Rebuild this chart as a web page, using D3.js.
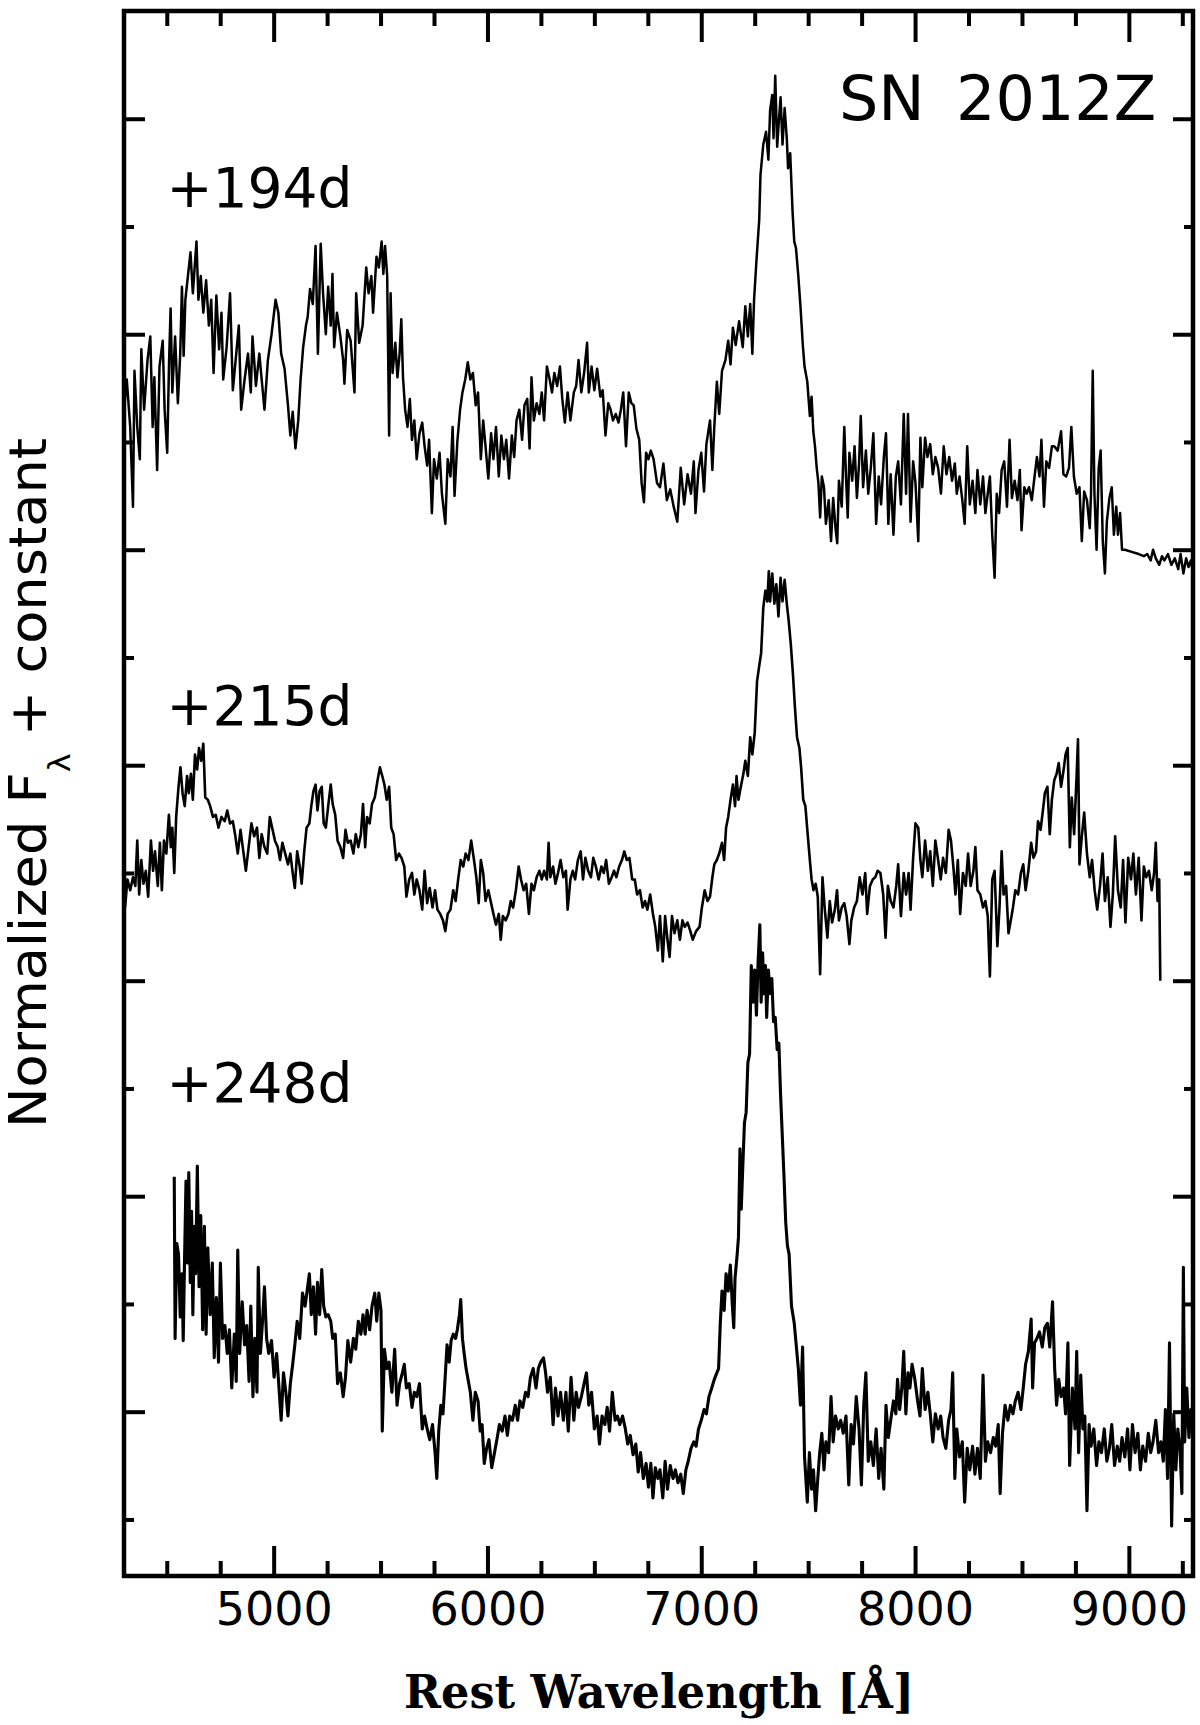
<!DOCTYPE html>
<html><head><meta charset="utf-8">
<script src="https://cdn.jsdelivr.net/npm/d3@7"></script>
<style>body{margin:0;background:#fff}</style>
</head><body>
<svg id="c" width="1200" height="1725"></svg>
<script>
// ---------- data ----------
const xTickLabels = [5000, 6000, 7000, 8000, 9000];
const xMinorTicks = [4500,4750,5250,5500,5750,6250,6500,6750,7250,7500,7750,8250,8500,8750,9250];
const yMajorTicks = [1,2,3,4,5,6,7];
const yMinorTicks = [0.5,1.5,2.5,3.5,4.5,5.5,6.5];
const epochLabels = ["+194d", "+215d", "+248d"];
const epochLabelY = [6.59, 4.185, 2.436];
const objectName = ["SN", "2012Z"];

// [rest wavelength (Å), normalized flux + constant]
const spec194 = [[4300,5.65],[4313,5.79],[4329,5.57],[4342,5.20],[4349,5.83],[4362,5.57],[4374,5.42],[4381,5.93],[4394,5.65],[4410,5.88],[4423,5.99],[4434,5.57],[4442,5.80],[4455,5.37],[4466,5.85],[4481,5.97],[4490,5.65],[4502,5.45],[4511,5.88],[4518,6.12],[4526,5.73],[4539,5.99],[4552,5.68],[4563,5.91],[4571,6.22],[4579,5.90],[4587,6.16],[4600,6.28],[4611,6.38],[4622,6.19],[4639,6.43],[4648,6.16],[4659,6.27],[4671,6.10],[4684,6.25],[4697,6.04],[4708,6.16],[4719,5.82],[4732,6.18],[4745,5.93],[4756,6.10],[4764,5.79],[4780,5.94],[4796,6.19],[4809,5.74],[4825,5.91],[4837,6.04],[4848,5.65],[4864,5.79],[4880,5.91],[4893,5.73],[4901,5.99],[4917,5.76],[4933,5.91],[4944,5.79],[4957,5.65],[4973,5.88],[4990,6.00],[5009,6.16],[5022,6.10],[5035,5.91],[5051,5.84],[5067,5.67],[5078,5.53],[5089,5.64],[5102,5.47],[5115,5.60],[5126,5.79],[5138,5.94],[5151,6.04],[5159,6.08],[5170,6.21],[5183,6.14],[5196,6.41],[5207,5.91],[5220,6.42],[5231,6.19],[5244,6.00],[5255,6.22],[5267,6.04],[5275,6.28],[5283,5.94],[5296,6.10],[5312,5.99],[5325,5.88],[5331,5.77],[5344,6.02],[5360,5.97],[5378,5.73],[5386,6.19],[5400,5.96],[5416,6.04],[5433,6.31],[5444,6.19],[5457,6.27],[5465,6.10],[5481,6.36],[5492,6.31],[5505,6.43],[5513,6.28],[5521,6.41],[5531,6.27],[5540,5.53],[5547,6.19],[5556,5.82],[5569,5.96],[5579,5.80],[5589,5.91],[5597,6.07],[5605,5.80],[5615,5.65],[5626,5.57],[5637,5.70],[5647,5.51],[5658,5.60],[5669,5.42],[5682,5.54],[5695,5.59],[5706,5.48],[5718,5.39],[5727,5.51],[5740,5.17],[5750,5.42],[5763,5.33],[5776,5.45],[5787,5.26],[5803,5.12],[5814,5.42],[5827,5.34],[5837,5.57],[5846,5.25],[5859,5.50],[5872,5.65],[5883,5.73],[5896,5.79],[5908,5.87],[5920,5.79],[5932,5.82],[5945,5.67],[5956,5.73],[5969,5.42],[5980,5.60],[5991,5.48],[6004,5.33],[6017,5.54],[6028,5.42],[6040,5.57],[6053,5.34],[6065,5.53],[6077,5.42],[6088,5.51],[6101,5.33],[6114,5.53],[6125,5.43],[6136,5.60],[6149,5.65],[6162,5.51],[6173,5.67],[6186,5.70],[6197,5.47],[6206,5.80],[6217,5.60],[6230,5.68],[6243,5.63],[6254,5.73],[6265,5.60],[6278,5.85],[6291,5.79],[6302,5.73],[6313,5.82],[6326,5.76],[6339,5.85],[6350,5.70],[6362,5.59],[6375,5.73],[6388,5.60],[6404,5.73],[6415,5.76],[6426,5.88],[6439,5.73],[6452,5.82],[6466,5.96],[6474,5.73],[6487,5.85],[6500,5.74],[6513,5.84],[6528,5.71],[6539,5.74],[6552,5.53],[6565,5.68],[6576,5.65],[6587,5.60],[6600,5.63],[6613,5.59],[6624,5.65],[6635,5.73],[6648,5.48],[6661,5.73],[6673,5.68],[6684,5.67],[6697,5.56],[6710,5.51],[6721,5.31],[6732,5.22],[6742,5.45],[6753,5.42],[6764,5.46],[6777,5.42],[6793,5.31],
[6807,5.29],[6823,5.40],[6839,5.23],[6855,5.28],[6871,5.20],[6888,5.13],[6904,5.38],[6920,5.21],[6936,5.35],[6952,5.26],[6965,5.41],[6973,5.17],[6987,5.37],[7000,5.45],[7013,5.27],[7024,5.49],[7041,5.60],[7052,5.37],[7061,5.57],[7073,5.78],[7084,5.63],[7097,5.83],[7113,5.88],[7126,5.97],[7137,5.86],[7148,6.03],[7161,5.95],[7177,6.06],[7194,5.94],[7206,6.13],[7218,5.99],[7229,6.14],[7239,5.91],[7247,6.16],[7258,6.34],[7271,6.53],[7277,6.74],[7290,6.88],[7303,6.94],[7314,6.81],[7322,7.04],[7332,7.11],[7338,6.91],[7346,7.20],[7355,6.87],[7363,6.99],[7371,7.10],[7380,6.88],[7390,7.05],[7400,6.91],[7406,6.77],[7416,6.84],[7427,6.57],[7435,6.43],[7443,6.40],[7454,6.27],[7464,6.13],[7475,5.95],[7483,5.85],[7496,5.78],[7508,5.62],[7516,5.71],[7524,5.55],[7532,5.48],[7540,5.38],[7548,5.31],[7556,5.15],[7564,5.34],[7574,5.29],[7583,5.12],[7596,5.23],[7607,5.04],[7617,5.24],[7628,5.10],[7636,5.03],[7644,5.32],[7657,5.20],[7669,5.57],[7677,5.34],[7685,5.15],[7693,5.45],[7706,5.32],[7717,5.48],[7728,5.24],[7738,5.40],[7746,5.62],[7757,5.29],[7770,5.46],[7781,5.26],[7793,5.38],[7805,5.54],[7818,5.12],[7830,5.34],[7841,5.21],[7854,5.43],[7864,5.54],[7875,5.12],[7886,5.35],[7899,5.07],[7910,5.34],[7921,5.41],[7934,5.21],[7947,5.63],[7958,5.26],[7967,5.63],[7979,5.13],[7991,5.41],[8002,5.31],[8015,5.04],[8025,5.52],[8034,5.29],[8047,5.52],[8058,5.43],[8071,5.49],[8083,5.35],[8095,5.43],[8108,5.38],[8121,5.26],[8134,5.48],[8147,5.35],[8160,5.43],[8173,5.32],[8186,5.40],[8195,5.26],[8208,5.34],[8221,5.23],[8232,5.12],[8244,5.48],[8256,5.21],[8269,5.32],[8282,5.17],[8292,5.37],[8305,5.21],[8318,5.34],[8329,5.17],[8340,5.26],[8350,5.34],[8361,5.07],[8372,4.87],[8382,5.26],[8393,5.17],[8405,5.37],[8417,5.41],[8430,5.20],[8442,5.51],[8453,5.24],[8466,5.32],[8479,5.23],[8490,5.37],[8498,5.09],[8511,5.29],[8522,5.26],[8533,5.29],[8546,5.23],[8559,5.34],[8570,5.43],[8582,5.34],[8591,5.51],[8603,5.20],[8614,5.41],[8627,5.38],[8640,5.48],[8651,5.48],[8667,5.46],[8683,5.55],[8694,5.35],[8707,5.34],[8720,5.38],[8731,5.57],[8743,5.34],[8756,5.26],[8769,5.29],[8780,5.04],[8791,5.27],[8804,5.23],[8817,5.10],[8823,5.26],[8831,5.83],[8839,5.26],[8849,5.00],[8859,5.38],[8868,5.46],[8878,5.04],[8888,4.89],[8897,5.13],[8909,5.24],[8920,5.29],[8930,5.07],[8941,5.20],[8949,5.07],[8959,5.17],[8968,5.00],[8981,5.00],[9013,4.99],[9046,4.98],[9070,4.97],[9086,4.98],[9102,4.95],[9113,5.00],[9126,4.96],[9142,4.93],[9155,4.97],[9166,4.95],[9183,4.98],[9199,4.93],[9215,4.96],[9231,4.91],[9242,4.98],[9255,4.89],[9268,4.96],[9279,4.92],[9290,4.95],[9300,4.90]];

const spec215 = [[4305,3.34],[4316,3.47],[4329,3.42],[4342,3.48],[4353,3.44],[4362,3.65],[4371,3.40],[4381,3.56],[4391,3.45],[4402,3.51],[4413,3.39],[4426,3.65],[4436,3.51],[4445,3.60],[4458,3.44],[4468,3.64],[4477,3.42],[4487,3.65],[4498,3.59],[4510,3.77],[4519,3.62],[4526,3.71],[4535,3.50],[4544,3.76],[4555,3.90],[4564,3.99],[4574,3.87],[4584,3.81],[4595,3.95],[4603,3.87],[4613,3.96],[4622,3.84],[4632,4.05],[4642,3.98],[4651,4.08],[4661,4.02],[4671,4.10],[4680,3.85],[4692,3.84],[4703,3.81],[4716,3.76],[4729,3.77],[4742,3.71],[4756,3.76],[4771,3.74],[4783,3.79],[4796,3.73],[4809,3.74],[4821,3.67],[4832,3.59],[4845,3.70],[4858,3.60],[4870,3.51],[4883,3.62],[4896,3.73],[4909,3.67],[4922,3.71],[4933,3.57],[4944,3.68],[4957,3.62],[4970,3.59],[4982,3.76],[4993,3.71],[5006,3.65],[5019,3.62],[5030,3.56],[5041,3.64],[5054,3.59],[5067,3.54],[5078,3.59],[5089,3.50],[5099,3.43],[5110,3.60],[5122,3.53],[5131,3.45],[5143,3.60],[5154,3.71],[5167,3.73],[5176,3.81],[5186,3.88],[5196,3.91],[5205,3.79],[5215,3.88],[5225,3.90],[5234,3.73],[5244,3.71],[5255,3.81],[5267,3.91],[5276,3.82],[5288,3.77],[5299,3.65],[5312,3.62],[5325,3.57],[5336,3.70],[5347,3.64],[5360,3.65],[5373,3.59],[5384,3.68],[5396,3.62],[5408,3.68],[5418,3.82],[5428,3.62],[5437,3.76],[5449,3.73],[5460,3.82],[5473,3.85],[5486,3.93],[5497,3.99],[5508,3.95],[5518,3.91],[5529,3.84],[5540,3.90],[5550,3.71],[5561,3.68],[5573,3.56],[5586,3.59],[5598,3.57],[5611,3.53],[5621,3.39],[5634,3.47],[5647,3.50],[5658,3.40],[5669,3.47],[5682,3.42],[5695,3.33],[5706,3.51],[5718,3.36],[5730,3.43],[5743,3.34],[5755,3.42],[5766,3.33],[5779,3.31],[5792,3.28],[5803,3.23],[5814,3.31],[5827,3.33],[5840,3.42],[5851,3.37],[5863,3.47],[5875,3.56],[5887,3.53],[5898,3.59],[5911,3.56],[5924,3.65],[5937,3.56],[5948,3.48],[5959,3.36],[5969,3.56],[5980,3.50],[5991,3.37],[6004,3.42],[6017,3.36],[6028,3.31],[6040,3.26],[6053,3.31],[6062,3.19],[6072,3.30],[6085,3.28],[6098,3.31],[6109,3.37],[6120,3.34],[6133,3.42],[6146,3.53],[6157,3.47],[6169,3.42],[6181,3.45],[6194,3.31],[6206,3.45],[6217,3.42],[6230,3.48],[6243,3.51],[6254,3.47],[6265,3.51],[6278,3.47],[6286,3.64],[6294,3.48],[6307,3.53],[6318,3.45],[6330,3.50],[6342,3.56],[6355,3.48],[6367,3.51],[6375,3.33],[6388,3.47],[6399,3.51],[6410,3.47],[6423,3.56],[6436,3.60],[6447,3.47],[6458,3.57],[6471,3.51],[6484,3.48],[6495,3.57],[6507,3.53],[6520,3.47],[6533,3.53],[6544,3.50],[6555,3.56],[6568,3.45],[6581,3.48],[6592,3.51],[6603,3.48],[6616,3.53],[6629,3.56],[6640,3.60],[6652,3.56],[6664,3.57],[6677,3.47],[6689,3.47],[6700,3.40],[6713,3.42],[6726,3.34],[6737,3.37],[6748,3.33],[6761,3.40],[6774,3.31],[6785,3.25],[6797,3.14],
[6807,3.30],[6820,3.09],[6831,3.30],[6842,3.19],[6852,3.11],[6863,3.30],[6875,3.22],[6888,3.28],[6900,3.19],[6912,3.28],[6923,3.25],[6936,3.27],[6949,3.23],[6960,3.19],[6976,3.23],[6992,3.25],[7003,3.34],[7016,3.42],[7029,3.37],[7041,3.39],[7052,3.48],[7061,3.54],[7073,3.56],[7084,3.59],[7097,3.64],[7107,3.56],[7116,3.71],[7126,3.76],[7137,3.84],[7148,3.91],[7158,3.81],[7165,3.95],[7174,3.84],[7185,3.90],[7197,3.96],[7206,4.02],[7218,3.95],[7229,4.13],[7239,4.05],[7250,4.15],[7261,4.39],[7271,4.46],[7280,4.52],[7290,4.73],[7300,4.81],[7309,4.76],[7316,4.90],[7322,4.76],[7332,4.89],[7342,4.75],[7351,4.84],[7361,4.69],[7371,4.87],[7380,4.76],[7390,4.86],[7400,4.75],[7409,4.67],[7419,4.56],[7429,4.42],[7438,4.27],[7448,4.13],[7459,4.08],[7467,3.99],[7477,3.84],[7487,3.81],[7496,3.70],[7508,3.56],[7516,3.47],[7525,3.42],[7535,3.45],[7545,3.39],[7556,3.03],[7567,3.48],[7577,3.34],[7590,3.20],[7601,3.37],[7612,3.27],[7625,3.33],[7635,3.42],[7644,3.28],[7657,3.34],[7669,3.36],[7680,3.30],[7693,3.17],[7702,3.28],[7715,3.34],[7728,3.37],[7741,3.48],[7754,3.40],[7767,3.50],[7776,3.31],[7789,3.44],[7802,3.47],[7814,3.48],[7825,3.51],[7838,3.50],[7851,3.40],[7862,3.20],[7873,3.44],[7886,3.37],[7899,3.34],[7912,3.44],[7921,3.54],[7934,3.30],[7947,3.50],[7958,3.40],[7970,3.50],[7979,3.33],[7991,3.57],[8002,3.73],[8015,3.71],[8025,3.56],[8034,3.48],[8047,3.65],[8060,3.51],[8071,3.60],[8083,3.44],[8095,3.65],[8108,3.56],[8120,3.47],[8131,3.57],[8144,3.50],[8157,3.70],[8168,3.65],[8179,3.53],[8189,3.40],[8200,3.56],[8211,3.31],[8224,3.50],[8237,3.44],[8248,3.59],[8260,3.44],[8273,3.51],[8282,3.62],[8292,3.42],[8305,3.40],[8318,3.34],[8329,3.37],[8340,3.30],[8350,3.02],[8361,3.47],[8372,3.51],[8385,3.16],[8395,3.34],[8405,3.60],[8414,3.40],[8426,3.44],[8437,3.22],[8446,3.27],[8458,3.34],[8469,3.42],[8482,3.40],[8495,3.50],[8506,3.54],[8517,3.42],[8530,3.51],[8543,3.64],[8554,3.57],[8566,3.60],[8575,3.74],[8587,3.70],[8598,3.79],[8607,3.87],[8619,3.90],[8630,3.68],[8640,3.84],[8651,3.93],[8662,3.96],[8672,4.01],[8683,3.90],[8695,3.98],[8704,4.05],[8714,4.08],[8724,3.62],[8733,3.85],[8744,3.68],[8756,3.96],[8762,4.12],[8769,3.54],[8780,3.67],[8791,3.78],[8804,3.59],[8817,3.48],[8828,3.56],[8840,3.42],[8852,3.33],[8865,3.44],[8877,3.59],[8888,3.37],[8901,3.48],[8914,3.25],[8925,3.40],[8936,3.67],[8949,3.42],[8962,3.34],[8973,3.56],[8984,3.27],[8997,3.57],[9010,3.47],[9021,3.59],[9033,3.40],[9046,3.57],[9059,3.28],[9070,3.53],[9081,3.48],[9094,3.51],[9107,3.42],[9118,3.50],[9126,3.64],[9134,3.37],[9142,3.47],[9147,3.00]];

const spec248 = [[4535,2.09],[4539,1.34],[4547,1.78],[4555,1.73],[4563,1.44],[4571,1.64],[4577,1.33],[4584,1.75],[4590,2.07],[4597,1.69],[4603,2.11],[4610,1.60],[4616,1.93],[4622,1.45],[4629,1.86],[4635,1.64],[4643,2.14],[4651,1.58],[4659,1.91],[4668,1.38],[4676,1.86],[4684,1.36],[4692,1.76],[4703,1.45],[4713,1.69],[4722,1.25],[4732,1.53],[4742,1.23],[4751,1.69],[4761,1.34],[4772,1.40],[4783,1.27],[4793,1.38],[4804,1.11],[4816,1.36],[4825,1.14],[4832,1.75],[4841,1.27],[4853,1.51],[4864,1.31],[4874,1.40],[4885,1.14],[4893,1.49],[4903,1.07],[4912,1.34],[4922,1.09],[4928,1.67],[4938,1.27],[4948,1.42],[4957,1.58],[4967,1.34],[4977,1.27],[4990,1.33],[5002,1.16],[5014,1.27],[5025,1.11],[5035,0.96],[5046,1.18],[5057,1.09],[5067,0.98],[5078,1.13],[5089,1.22],[5099,1.31],[5110,1.42],[5122,1.34],[5135,1.55],[5147,1.49],[5159,1.58],[5167,1.64],[5176,1.45],[5186,1.58],[5196,1.36],[5205,1.60],[5215,1.45],[5225,1.66],[5234,1.49],[5244,1.44],[5255,1.45],[5267,1.42],[5276,1.34],[5288,1.36],[5299,1.13],[5312,1.18],[5325,1.07],[5336,1.16],[5347,1.33],[5360,1.23],[5373,1.34],[5384,1.29],[5396,1.42],[5408,1.36],[5418,1.45],[5428,1.36],[5437,1.47],[5449,1.38],[5460,1.49],[5473,1.55],[5482,1.42],[5492,1.55],[5502,1.47],[5508,0.91],[5518,1.29],[5529,1.20],[5540,1.23],[5553,1.09],[5566,1.29],[5577,1.03],[5589,1.13],[5602,1.18],[5611,1.22],[5621,1.11],[5634,1.13],[5647,1.02],[5658,1.09],[5669,1.07],[5682,1.13],[5695,0.92],[5706,0.98],[5718,0.92],[5730,0.87],[5743,0.94],[5755,0.81],[5763,0.69],[5772,0.91],[5782,1.03],[5792,0.99],[5801,1.14],[5811,1.31],[5821,1.23],[5830,1.33],[5840,1.36],[5851,1.34],[5859,1.38],[5869,1.45],[5875,1.52],[5883,1.34],[5891,1.27],[5900,1.20],[5911,1.14],[5920,1.09],[5932,0.96],[5943,1.09],[5956,1.05],[5966,0.91],[5975,0.94],[5985,0.76],[5996,0.83],[6007,0.87],[6020,0.74],[6033,0.81],[6044,0.87],[6056,0.94],[6069,0.91],[6082,0.98],[6093,0.89],[6104,0.98],[6117,0.96],[6130,1.03],[6141,0.96],[6152,1.05],[6165,1.02],[6178,1.09],[6190,1.07],[6201,1.16],[6214,1.20],[6227,1.11],[6238,1.20],[6249,1.23],[6262,1.25],[6272,1.18],[6281,1.09],[6294,1.16],[6307,0.94],[6318,1.11],[6330,0.98],[6342,1.09],[6355,0.96],[6367,1.09],[6378,0.91],[6391,1.16],[6404,0.96],[6415,1.09],[6426,1.02],[6439,1.07],[6452,1.13],[6463,1.18],[6474,1.03],[6487,1.09],[6500,0.92],[6513,0.98],[6524,0.85],[6536,0.98],[6549,0.94],[6560,1.02],[6571,0.91],[6584,1.09],[6597,0.96],[6608,0.98],[6619,0.94],[6632,0.98],[6645,0.92],[6656,0.85],[6668,0.89],[6681,0.80],[6694,0.85],[6705,0.72],[6716,0.81],[6729,0.69],[6742,0.76],[6753,0.65],[6764,0.76],[6774,0.60],[6785,0.74],[6797,0.69],
[6807,0.73],[6820,0.60],[6831,0.77],[6842,0.64],[6855,0.75],[6868,0.69],[6879,0.73],[6891,0.67],[6904,0.71],[6916,0.62],[6928,0.73],[6939,0.77],[6952,0.83],[6965,0.86],[6976,0.84],[6987,0.92],[7000,0.96],[7013,1.01],[7024,0.99],[7036,1.07],[7049,1.11],[7061,1.15],[7073,1.18],[7081,1.20],[7089,1.41],[7097,1.56],[7107,1.47],[7116,1.64],[7126,1.56],[7136,1.68],[7145,1.50],[7152,1.39],[7158,1.62],[7168,1.73],[7174,1.81],[7181,2.22],[7187,1.94],[7194,2.13],[7202,2.34],[7210,2.39],[7218,2.62],[7226,2.66],[7234,3.07],[7242,2.90],[7250,3.05],[7258,2.84],[7266,3.09],[7274,3.26],[7280,2.90],[7287,3.13],[7293,2.94],[7300,3.07],[7306,2.83],[7314,3.05],[7322,2.94],[7330,3.01],[7338,2.81],[7346,2.83],[7355,2.68],[7363,2.71],[7371,2.47],[7379,2.28],[7387,2.09],[7395,1.88],[7403,1.77],[7411,1.73],[7422,1.49],[7435,1.41],[7445,1.30],[7454,1.20],[7464,1.03],[7474,1.30],[7483,0.79],[7496,0.58],[7506,0.81],[7516,0.64],[7525,0.73],[7535,0.54],[7545,0.69],[7554,0.81],[7564,0.90],[7574,0.73],[7583,0.86],[7596,0.81],[7607,1.07],[7617,0.86],[7628,0.98],[7641,0.92],[7652,0.96],[7664,0.90],[7677,0.98],[7690,0.66],[7701,0.94],[7712,0.85],[7725,1.07],[7738,0.92],[7749,0.66],[7760,1.03],[7770,1.18],[7781,0.77],[7793,0.86],[7805,0.75],[7818,0.92],[7830,0.69],[7841,0.83],[7854,0.64],[7864,1.03],[7875,0.88],[7886,0.96],[7899,1.05],[7910,0.99],[7918,1.15],[7928,1.01],[7938,1.11],[7947,1.28],[7957,0.99],[7967,1.18],[7976,1.11],[7986,1.22],[7999,1.15],[8012,1.05],[8023,0.98],[8034,1.20],[8047,1.01],[8060,1.09],[8071,0.99],[8083,0.86],[8095,0.99],[8108,0.92],[8120,0.98],[8131,0.88],[8144,0.83],[8157,0.96],[8168,1.01],[8176,1.18],[8186,0.69],[8195,0.92],[8208,0.79],[8221,0.86],[8232,0.58],[8244,0.83],[8256,0.73],[8269,0.84],[8280,0.71],[8292,0.83],[8305,0.69],[8318,1.17],[8329,0.77],[8340,0.86],[8353,0.81],[8366,0.88],[8377,0.84],[8389,0.94],[8398,0.62],[8409,0.90],[8421,1.03],[8434,0.96],[8446,1.03],[8458,0.99],[8469,1.05],[8482,1.09],[8495,1.01],[8506,1.11],[8517,1.22],[8530,1.28],[8543,1.43],[8550,1.11],[8559,1.32],[8570,1.34],[8582,1.37],[8595,1.30],[8607,1.39],[8619,1.41],[8630,1.30],[8643,1.51],[8653,1.20],[8662,1.03],[8672,1.15],[8683,1.07],[8695,1.11],[8704,0.99],[8715,1.32],[8723,0.75],[8736,1.11],[8748,0.92],[8756,1.28],[8765,0.81],[8775,1.17],[8785,0.92],[8794,0.98],[8804,0.54],[8814,0.94],[8823,0.84],[8836,0.92],[8849,0.75],[8860,0.86],[8872,0.81],[8885,0.92],[8897,0.77],[8909,0.83],[8920,0.94],[8933,0.75],[8946,0.84],[8957,0.77],[8968,0.88],[8981,0.79],[8994,0.92],[9005,0.73],[9017,0.94],[9029,0.81],[9042,0.90],[9054,0.73],[9065,0.84],[9078,0.77],[9091,0.90],[9102,0.81],[9113,0.86],[9126,0.96],[9139,0.81],[9150,0.86],[9161,0.77],[9171,1.01],[9181,0.69],[9190,1.32],[9200,0.47],[9210,0.99],[9220,0.73],[9229,0.92],[9239,0.83],[9248,0.62],[9255,1.67],[9261,0.86],[9271,1.11],[9281,0.88],[9290,1.01],[9300,0.92]];

const spectra = [spec194, spec215, spec248];
const lineWidths = [2.5, 2.6, 3.1];

// ---------- layout ----------
const frame = {l:124, r:1193, t:11, b:1576};
const svg = d3.select("#c");
const x = d3.scaleLinear().domain([4300, 9300]).range([frame.l, frame.r]);
const y = d3.scaleLinear().domain([0.2375, 7.5]).range([frame.b, frame.t]);

svg.append("rect").attr("width",1200).attr("height",1725).attr("fill","#fff");

svg.append("defs").append("clipPath").attr("id","plotclip")
  .append("rect").attr("x",frame.l).attr("y",frame.t)
  .attr("width",frame.r-frame.l).attr("height",frame.b-frame.t);

const line = d3.line().x(d => x(d[0])).y(d => y(d[1]));
svg.append("g").attr("clip-path","url(#plotclip)")
  .selectAll("path").data(spectra).join("path")
  .attr("d", line).attr("fill","none").attr("stroke","#000")
  .attr("stroke-width", (d,i) => lineWidths[i]).attr("stroke-linejoin","round");

function styleAxis(g){
  g.select(".domain").remove();
  g.selectAll(".tick line").attr("stroke","#000").attr("stroke-width",4);
}
// bottom
svg.append("g").attr("transform",`translate(0,${frame.b})`)
  .call(d3.axisBottom(x).tickValues(xTickLabels).tickSize(-30).tickPadding(16).tickFormat(d3.format("d")))
  .call(styleAxis)
  .call(g => g.selectAll("text").attr("fill","#000").attr("font-family","'DejaVu Sans'").attr("font-size",46));
svg.append("g").attr("transform",`translate(0,${frame.b})`)
  .call(d3.axisBottom(x).tickValues(xMinorTicks).tickSize(-15).tickFormat(""))
  .call(styleAxis);
// top
svg.append("g").attr("transform",`translate(0,${frame.t})`)
  .call(d3.axisTop(x).tickValues(xTickLabels).tickSize(-31).tickFormat("")).call(styleAxis);
svg.append("g").attr("transform",`translate(0,${frame.t})`)
  .call(d3.axisTop(x).tickValues(xMinorTicks).tickSize(-15).tickFormat("")).call(styleAxis);
// left
svg.append("g").attr("transform",`translate(${frame.l},0)`)
  .call(d3.axisLeft(y).tickValues(yMajorTicks).tickSize(-21).tickFormat("")).call(styleAxis);
svg.append("g").attr("transform",`translate(${frame.l},0)`)
  .call(d3.axisLeft(y).tickValues(yMinorTicks).tickSize(-10).tickFormat("")).call(styleAxis);
// right
svg.append("g").attr("transform",`translate(${frame.r},0)`)
  .call(d3.axisRight(y).tickValues(yMajorTicks).tickSize(-20).tickFormat("")).call(styleAxis);
svg.append("g").attr("transform",`translate(${frame.r},0)`)
  .call(d3.axisRight(y).tickValues(yMinorTicks).tickSize(-9).tickFormat("")).call(styleAxis);

// frame
svg.append("rect").attr("x",frame.l).attr("y",frame.t)
  .attr("width",frame.r-frame.l).attr("height",frame.b-frame.t)
  .attr("fill","none").attr("stroke","#000").attr("stroke-width",4.5);

// epoch labels
svg.append("g").selectAll("text").data(epochLabels).join("text")
  .attr("x", 166.5).attr("y", (d,i) => y(epochLabelY[i]))
  .attr("font-family","'DejaVu Sans'").attr("font-size",55).attr("fill","#000")
  .text(d => d);

// object name
const nm = svg.append("text").attr("y", 120).attr("font-family","'DejaVu Sans'")
  .attr("font-size",62).attr("fill","#000");
nm.append("tspan").attr("x",839).text(objectName[0]);
nm.append("tspan").attr("x",956).text(objectName[1]);

// x-axis title
svg.append("text").attr("x", 659).attr("y", 1708).attr("text-anchor","middle")
  .attr("font-family","'DejaVu Serif'").attr("font-weight","bold").attr("font-size",47)
  .attr("textLength",510).attr("lengthAdjust","spacingAndGlyphs").attr("fill","#000")
  .text("Rest Wavelength [Å]");

// y-axis title
const yt = svg.append("text").attr("transform","translate(46,1128) rotate(-90)")
  .attr("font-family","'DejaVu Sans'").attr("font-size",51).attr("fill","#000")
  .attr("textLength",690).attr("lengthAdjust","spacingAndGlyphs");
yt.append("tspan").text("Normalized F");
yt.append("tspan").attr("font-size",30).attr("dy",24).text("λ");
yt.append("tspan").attr("dy",-24).text(" + constant");
</script>
</body></html>
